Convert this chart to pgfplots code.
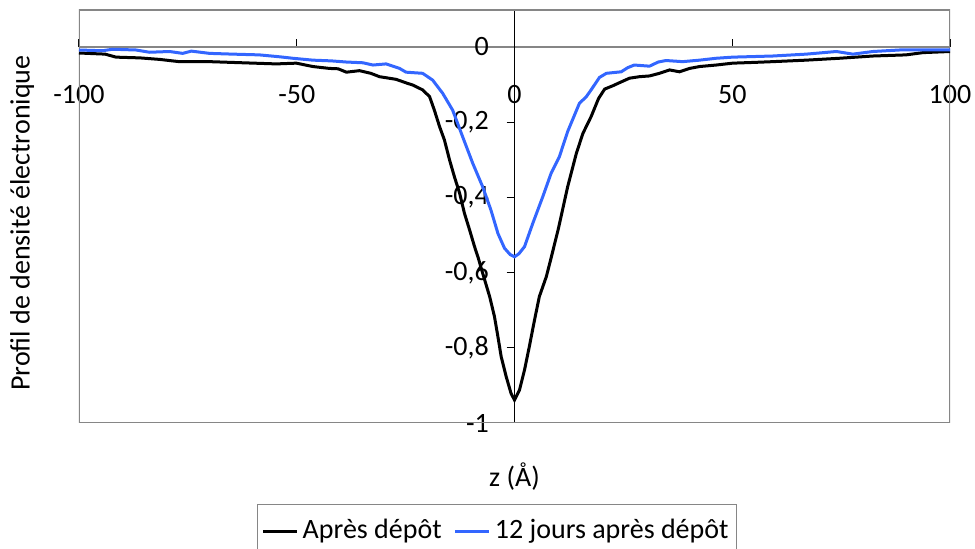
\documentclass[border=0pt]{standalone}
\usepackage{fontspec}
\setmainfont{Carlito}
\usepackage{pgfplots}
\pgfplotsset{compat=1.18}
\definecolor{serieblue}{RGB}{51,102,255}
\definecolor{framegray}{RGB}{134,134,134}
\begin{document}
\fontsize{14}{17}\selectfont
\begin{tikzpicture}
\begin{axis}[
  scale only axis, width=435.5pt, height=206.5pt,
  xmin=-100, xmax=100, ymin=-1, ymax=0.0984,
  axis lines=middle, axis line style={-},
  x axis line style={draw=framegray, line width=0.6pt},
  y axis line style={draw=black, line width=0.6pt},
  hide obscured x ticks=false, hide obscured y ticks=false,
  xtick={-100,-50,0,50,100},
  ytick={-1,-0.8,-0.6,-0.4,-0.2,0},
  minor tick num=0,
  tick style={black, line width=0.5pt},
  xtick align=inside, ytick align=outside,
  major tick length=4pt,
  /pgf/number format/use comma,
  /pgf/number format/assume math mode=true,
  xticklabel style={anchor=center, yshift=-24pt},
  yticklabel style={anchor=east, xshift=-4pt},
  xlabel={z (Å)},
  ylabel={Profil de densité électronique},
  xlabel style={at={(axis description cs:0.5,-0.1308)}, anchor=center},
  ylabel style={at={(axis description cs:-0.0654,0.484)}, rotate=90, anchor=center},
  legend columns=2,
  legend style={at={(axis description cs:0.48,-0.196)}, anchor=north,
    draw=framegray, line width=0.6pt, inner xsep=2pt, inner ysep=5.5pt,
    /tikz/every even column/.append style={column sep=4pt}},
]
\draw[framegray, line width=0.8pt] (rel axis cs:0,0) rectangle (rel axis cs:1,1);

\addplot[black, line width=1.5pt] coordinates {
(-100,-0.016) (-94,-0.019) (-91.5,-0.027) (-86,-0.029) (-81.5,-0.033) (-77,-0.039)
(-70,-0.039) (-62.4,-0.042) (-54.7,-0.045) (-50.1,-0.043) (-46.3,-0.052) (-42.5,-0.057)
(-40.5,-0.058) (-38.6,-0.067) (-35.6,-0.063) (-33,-0.070) (-31,-0.079) (-27.2,-0.086)
(-24.5,-0.097) (-23.4,-0.101) (-21.1,-0.114) (-19.5,-0.132) (-18.4,-0.168) (-17.2,-0.212)
(-16.1,-0.247) (-14.9,-0.301) (-13.8,-0.345) (-12.6,-0.389) (-11.5,-0.442) (-10.3,-0.487)
(-9.2,-0.530) (-8.3,-0.562) (-7.3,-0.602) (-5.7,-0.664) (-4.6,-0.717) (-3.8,-0.771)
(-3.05,-0.824) (-1.9,-0.877) (-0.8,-0.921) (0,-0.939) (1.15,-0.912) (2.3,-0.859)
(3.4,-0.797) (4.6,-0.726) (5.7,-0.664) (7.3,-0.611) (8.3,-0.566) (10.1,-0.482)
(12.2,-0.372) (14.2,-0.283) (15.7,-0.230) (17.6,-0.185) (19.3,-0.137) (20.7,-0.112)
(22.6,-0.103) (24.1,-0.095) (26.4,-0.083) (28.7,-0.079) (31,-0.077) (33.3,-0.070)
(35.6,-0.061) (37.9,-0.066) (40.2,-0.057) (42.5,-0.052) (46.3,-0.048) (50.1,-0.043)
(55,-0.041) (59.3,-0.039) (67,-0.035) (74.6,-0.030) (82.3,-0.024) (89.9,-0.021)
(93.8,-0.015) (100,-0.012)
};
\addlegendentry{Après dépôt}

\addplot[serieblue, line width=1.5pt] coordinates {
(-100,-0.008) (-94.6,-0.010) (-92.3,-0.006) (-86.9,-0.008) (-83.8,-0.014) (-79.2,-0.012)
(-76.2,-0.017) (-74.2,-0.011) (-70,-0.017) (-64.7,-0.019) (-58.6,-0.021) (-54,-0.026)
(-50.9,-0.030) (-46.3,-0.035) (-42,-0.037) (-38.6,-0.040) (-34.8,-0.042) (-32.5,-0.048)
(-29.5,-0.045) (-26.4,-0.057) (-24.9,-0.067) (-21.1,-0.070) (-18.8,-0.088) (-16.5,-0.123)
(-14.2,-0.168) (-11.9,-0.239) (-9.6,-0.309) (-7.3,-0.372) (-5.4,-0.434) (-3.8,-0.496)
(-2.3,-0.535) (-1,-0.552) (0,-0.558) (1,-0.550) (2.3,-0.531) (4.2,-0.469)
(6.5,-0.398) (8.4,-0.336) (10.3,-0.292) (12.2,-0.225) (14.9,-0.150) (16.5,-0.132)
(17.6,-0.114) (19.5,-0.081) (21.1,-0.070) (24.5,-0.066) (26,-0.055) (27.5,-0.048)
(31,-0.051) (33,-0.040) (34.8,-0.036) (38.6,-0.039) (42.5,-0.035) (46.3,-0.030)
(50.1,-0.027) (53.2,-0.026) (59.3,-0.024) (67,-0.019) (73.9,-0.012) (77.7,-0.019)
(82.3,-0.012) (88.4,-0.008) (93.8,-0.008) (100,-0.008)
};
\addlegendentry{12 jours après dépôt}
\end{axis}
\pgfresetboundingbox
\path ([xshift=-39.5pt,yshift=-63pt]current axis.south west) rectangle ([xshift=12.5pt,yshift=5pt]current axis.north east);
\end{tikzpicture}
\end{document}
